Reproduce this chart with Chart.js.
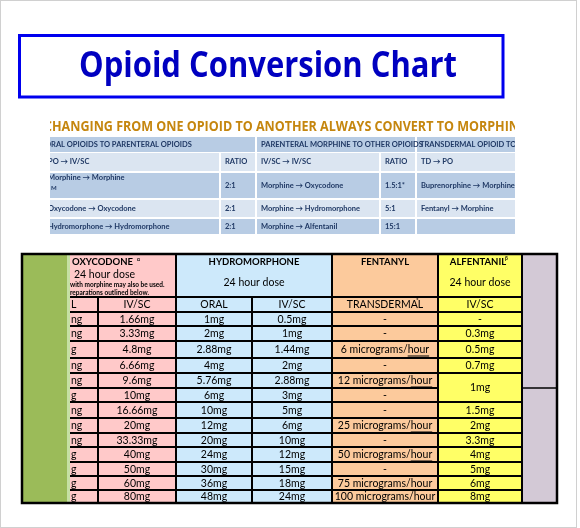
<!DOCTYPE html>
<html><head><meta charset="utf-8">
<script src="https://cdn.jsdelivr.net/npm/chart.js@4.4.1/dist/chart.umd.min.js"></script>
<style>html,body{margin:0;padding:0;background:#fff}#c{display:block}</style>
</head><body><canvas id="c" width="580" height="528"></canvas>
<script>
// ---- data ----
const title = "Opioid Conversion Chart";
const banner = "CHANGING FROM ONE OPIOID TO ANOTHER ALWAYS CONVERT TO MORPHINE";
const topGroups = ["ORAL OPIOIDS TO PARENTERAL OPIOIDS","PARENTERAL MORPHINE TO OTHER OPIOIDS","TRANSDERMAL OPIOID TO ORAL"];
const topSub = ["PO → IV/SC","RATIO","IV/SC → IV/SC","RATIO","TD → PO"];
const topRows = [
  ["Morphine → Morphine","2:1","Morphine → Oxycodone","1.5:1*","Buprenorphine → Morphine"],
  ["Oxycodone → Oxycodone","2:1","Morphine → Hydromorphone","5:1","Fentanyl → Morphine"],
  ["Hydromorphone → Hydromorphone","2:1","Morphine → Alfentanil","15:1",""]
];
const drugs = ["OXYCODONE","HYDROMORPHONE","FENTANYL","ALFENTANIL"];
const routes = ["ORAL","IV/SC","ORAL","IV/SC","TRANSDERMAL","IV/SC"];
const oxyOral = ["ng","ng","g","ng","ng","g","ng","ng","ng","g","g","g","g"];
const oxyIV = ["1.66mg","3.33mg","4.8mg","6.66mg","9.6mg","10mg","16.66mg","20mg","33.33mg","40mg","50mg","60mg","80mg"];
const hydroOral = ["1mg","2mg","2.88mg","4mg","5.76mg","6mg","10mg","12mg","20mg","24mg","30mg","36mg","48mg"];
const hydroIV = ["0.5mg","1mg","1.44mg","2mg","2.88mg","3mg","5mg","6mg","10mg","12mg","15mg","18mg","24mg"];
const fentTD = ["-","-","6 micrograms/hour","-","12 micrograms/hour","-","-","25 micrograms/hour","-","50 micrograms/hour","-","75 micrograms/hour","100 micrograms/hour"];
const alfIV = ["-","0.3mg","0.5mg","0.7mg","1mg","1mg","1.5mg","2mg","3.3mg","4mg","5mg","6mg","8mg"];

// ---- layout (not data) ----
const rowY = [312,326,341,358,373,388,402,418,433,447,462,476,490,503];
const colX = [70,98,176,252,332,438,522];
const F = '10.5px Lato';

const tablePlugin = {
  id:'table',
  afterDraw(chart){
    const c = chart.ctx, sx = chart.scales.x, sy = chart.scales.y;
    const X = v=>sx.getPixelForValue(v), Y = v=>sy.getPixelForValue(v);
    const rect=(x0,y0,x1,y1,f)=>{c.fillStyle=f;c.fillRect(X(x0),Y(y0),X(x1)-X(x0),Y(y1)-Y(y0));};
    const line=(x0,y0,x1,y1,w,col)=>{c.strokeStyle=col||'#000';c.lineWidth=w;c.beginPath();c.moveTo(X(x0),Y(y0));c.lineTo(X(x1),Y(y1));c.stroke();};
    const text=(s,x,y,font,col,align,mw)=>{c.font=font;c.fillStyle=col||'#000';c.textAlign=align||'center';c.textBaseline='middle';if(mw)c.fillText(s,X(x),Y(y),mw);else c.fillText(s,X(x),Y(y));};
    c.save();
    c.strokeStyle='#d0d0d0';c.lineWidth=1;c.strokeRect(X(0)+0.5,Y(0)+0.5,X(576)-X(0),Y(528)-Y(0)-1);
    // title
    c.strokeStyle='#0000ee';c.lineWidth=3;c.strokeRect(X(19.5),Y(35.5),X(503)-X(19.5),Y(97)-Y(35.5));
    text(title,268,67,'bold 36px "Open Sans"','#0000c0','center',378);
    // top table (clipped)
    c.save();c.beginPath();c.rect(X(50),Y(112),X(515)-X(50),Y(236)-Y(112));c.clip();
    text(banner,44,127,'bold 14px "Open Sans"','#c5860e','left',482);
    const tc=[[42,219],[221,255],[257,379],[381,415],[417,560]];
    const tr=[[153,171],[173,198],[200,217],[219,234]];
    rect(42,137,255,152,'#b8cce4');rect(257,137,415,152,'#b8cce4');rect(417,137,560,152,'#b8cce4');
    const TF='bold 7.5px Lato';
    text(topGroups[0],45,144.5,TF,'#1f3864','left');
    text(topGroups[1],261,144.5,TF,'#1f3864','left');
    text(topGroups[2],420,144.5,TF,'#1f3864','left');
    const rows=[topSub].concat(topRows);
    rows.forEach((r,i)=>{
      const [y0,y1]=tr[i];const bg=i%2===0?'#dbe5f1':'#b8cce4';
      tc.forEach(([x0,x1],j)=>{rect(x0,y0,x1,y1,bg);
        let ty=(y0+y1)/2; if(i===1&&j===0)ty=y0+5;
        text(r[j],x0+(j===0?6:4),ty,TF,'#1f3864','left');});
      if(i===1) text('M',51,y0+15,'bold 6px Lato','#1f3864','left');
    });
    c.restore();
    // backgrounds
    rect(22,254,67,503,'#9bbb59');rect(67,254,70,503,'#c6e0a4');
    rect(70,254,176,503,'#ffc9c9');
    rect(176,254,332,503,'#cde9fb');
    rect(332,254,438,503,'#fcca9c');
    rect(438,254,522,503,'#ffff66');
    rect(522,254,557,503,'#d3c9d6');
    // header texts
    text(drugs[0],72,262,'bold 9.5px Lato','#000','left');
    text('α',137,259,'bold 5px Lato','#000','left');
    text('24 hour dose',74,275,F,'#000','left');
    text('with morphine may also be used.',70,285,'bold 6.5px Lato','#000','left');
    text('reparations outlined below.',70,293,'bold 6.5px Lato','#000','left');
    text(drugs[1],254,262,'bold 9.5px Lato');
    text('24 hour dose',254,283,F);
    text(drugs[2],385,262,'bold 9.5px Lato');
    text(drugs[3],478,262,'bold 9.5px Lato');
    text('β',505,258,'bold 5px Lato','#000','left');
    text('24 hour dose',480,283,F);
    // subheader
    const subY=304.5;
    text('L',71,subY,F,'#000','left');
    routes.slice(1).forEach((r,i)=>text(r,(colX[i+1]+colX[i+2])/2,subY,F));
    text('*',416,300,'bold 6px Lato','#000','left');
    // body
    const body=[oxyIV,hydroOral,hydroIV,fentTD];
    for(let i=0;i<13;i++){
      const cy=(rowY[i]+rowY[i+1])/2+0.5;
      text(oxyOral[i],71,cy,F,'#000','left');
      body.forEach((col,j)=>{
        const cx=(colX[j+1]+colX[j+2])/2; const s=col[i];
        if(j===3 && s.endsWith('hour')){
          const pre=s.slice(0,-4); c.font=F;
          const w1=c.measureText(pre).width,w2=c.measureText('hour').width;
          const left=X(cx)-(w1+w2)/2;
          c.textAlign='left';c.textBaseline='middle';c.fillStyle='#000';
          c.fillText(pre,left,Y(cy));c.fillText('hour',left+w1,Y(cy));
          c.fillRect(left+w1,Y(cy)+5.5,w2,1);
        } else text(s,cx,cy,F);
      });
      if(i===5) continue;
      const ay = i===4 ? (rowY[4]+rowY[6])/2 : cy;
      text(alfIV[i],480,ay,F);
    }
    // grid lines
    line(70,297,522,297,2);
    rowY.forEach((y,i)=>{ if(i===rowY.length-1)return; line(70,y,i===5?438:522,y,2); });
    line(522,388,557,388,1.5);
    line(98,297,98,503,2);
    line(252,297,252,503,2);
    [176,332,438,522].forEach(x=>line(x,254,x,503,2));
    c.lineWidth=2.5;c.strokeStyle='#000';c.strokeRect(X(22),Y(254),X(557)-X(22),Y(503)-Y(254));
    c.restore();
  }
};

new Chart(document.getElementById('c'),{
  type:'scatter',
  data:{datasets:[{data:[],pointRadius:0}]},
  options:{responsive:false,animation:false,devicePixelRatio:1,
    layout:{padding:0},
    plugins:{legend:{display:false},tooltip:{enabled:false}},
    scales:{x:{type:'linear',min:0,max:580,display:false},
            y:{type:'linear',min:0,max:528,reverse:true,display:false}}},
  plugins:[tablePlugin]
});
</script></body></html>
